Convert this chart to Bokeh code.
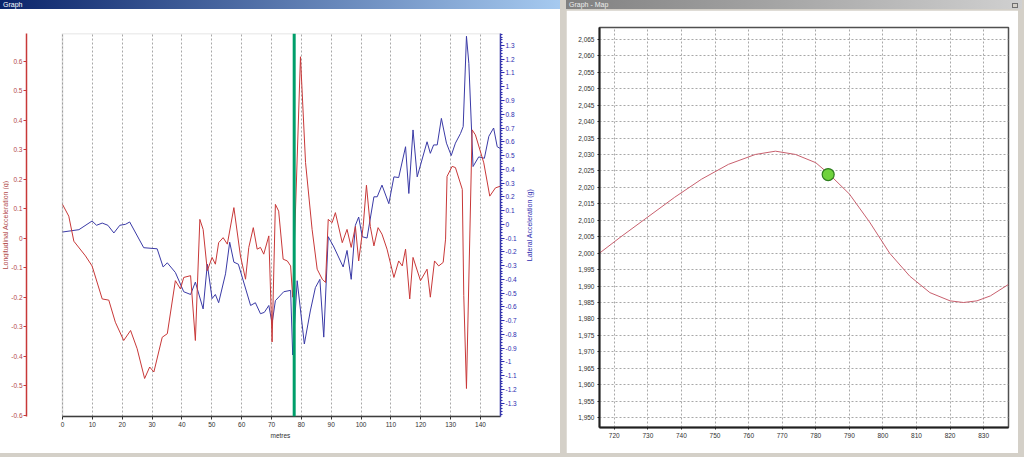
import numpy as np
from bokeh.plotting import figure
from bokeh.layouts import row, column
from bokeh.models import (Range1d, LinearAxis, FixedTicker, NumeralTickFormatter,
                          BoxAnnotation, Span, Spacer, Div, Title)
from bokeh.embed import file_html
from bokeh.resources import INLINE

FONT = "Liberation Sans"

# ---------------- data: left graph (distance in metres) ----------------
long_m = [0, 2.1, 3.8, 7.7, 9.9, 13.3, 15.5, 17.7, 20.5, 22.8, 25.0, 27.5, 29.2, 30.6,
          33.4, 35.1, 37.8, 39.5, 40.6, 42.9, 44.5, 46.0, 47.1, 48.5, 50.1, 51.2, 52.3,
          53.8, 55.2, 57.4, 59.6, 61.3, 62.4, 63.9, 65.2, 66.3, 67.4, 69.1, 70.2, 71.3,
          72.4, 73.9, 75.3, 76.4, 77.1, 79.7, 81.4, 83.6, 85.3, 87.0, 88.1, 89.0, 90.3,
          91.4, 93.7, 95.3, 96.7, 98.1, 99.2, 100.7, 101.8, 103.1, 104.3, 105.7, 107.0,
          108.7, 111.0, 112.6, 113.8, 114.9, 116.3, 117.4, 119.9, 122.1, 123.2, 124.6,
          126.0, 127.5, 128.3, 128.8, 130.5, 131.6, 133.9, 134.4, 135.3, 137.2, 138.3,
          141.1, 143.1, 145.0, 146.7]
long_g = [0.115, 0.075, -0.01, -0.06, -0.094, -0.206, -0.21, -0.285, -0.347, -0.313,
          -0.375, -0.476, -0.437, -0.454, -0.336, -0.324, -0.144, -0.172, -0.133, -0.127,
          -0.347, 0.064, 0.03, -0.11, -0.065, -0.088, -0.015, 0.002, -0.02, 0.104, -0.06,
          -0.139, -0.031, 0.036, -0.037, -0.031, -0.054, 0.008, -0.352, 0.115, 0.092,
          -0.071, -0.077, -0.094, -0.2, 0.616, 0.257, 0.03, -0.105, -0.139, -0.15, 0.064,
          0.053, 0.087, -0.015, 0.03, -0.031, 0.04, -0.077, 0.04, 0.18, 0.04, -0.026,
          0.036, 0.014, -0.037, -0.133, -0.077, -0.094, -0.037, -0.206, -0.065, -0.144,
          -0.105, -0.2, -0.077, -0.094, -0.082, -0.003, 0.21, 0.244, 0.24, 0.166, -0.195,
          -0.51, 0.368, 0.351, 0.256, 0.143, 0.171, 0.177]

lat_m = [0, 5.5, 9.9, 11.4, 13.3, 15.2, 17.2, 19.2, 21.1, 22.5, 27.2, 31.7, 33.7, 35.1,
         37.8, 40.6, 42.9, 44.5, 47.1, 48.5, 50.1, 51.2, 52.3, 54.6, 56.0, 57.4, 58.9,
         63.0, 64.6, 66.3, 67.6, 69.1, 70.2, 71.3, 74.1, 76.4, 77.1, 78.6, 81.0, 83.0,
         84.7, 86.2, 87.5, 89.0, 90.9, 94.0, 95.3, 96.7, 98.1, 99.2, 100.4, 102.0, 104.3,
         105.4, 107.0, 109.3, 111.0, 112.6, 114.9, 116.0, 117.4, 118.8, 122.1, 123.2,
         124.3, 125.5, 126.9, 128.6, 130.2, 131.6, 133.3, 134.2, 135.3, 136.1, 137.5,
         139.4, 141.3, 142.8, 144.4, 145.6, 146.7]
lat_g = [-0.056, -0.039, 0.024, -0.007, 0.009, -0.007, -0.063, -0.007, 0.0, 0.017, -0.17,
         -0.178, -0.31, -0.28, -0.35, -0.49, -0.51, -0.42, -0.615, -0.29, -0.54, -0.51,
         -0.57, -0.36, -0.13, -0.275, -0.29, -0.59, -0.57, -0.65, -0.64, -0.59, -0.72,
         -0.555, -0.49, -0.48, -0.95, -0.41, -0.87, -0.63, -0.46, -0.40, -0.82, -0.09,
         -0.165, -0.31, -0.19, -0.40, -0.007, 0.053, -0.09, -0.10, 0.2, 0.2, 0.285, 0.15,
         0.345, 0.34, 0.564, 0.224, 0.686, 0.345, 0.60, 0.516, 0.577, 0.577, 0.77, 0.59,
         0.50, 0.59, 0.66, 0.71, 1.367, 1.17, 0.42, 0.49, 0.48, 0.64, 0.70, 0.564, 0.55]

cursor_m = 77.6

dist_ticks = [0, 10, 20, 30, 40, 50, 60, 70, 80, 90, 100, 110, 120, 130, 140]
long_ticks = [-0.6, -0.5, -0.4, -0.3, -0.2, -0.1, 0, 0.1, 0.2, 0.3, 0.4, 0.5, 0.6]
lat_ticks = [-1.3, -1.2, -1.1, -1.0, -0.9, -0.8, -0.7, -0.6, -0.5, -0.4, -0.3, -0.2, -0.1,
             0, 0.1, 0.2, 0.3, 0.4, 0.5, 0.6, 0.7, 0.8, 0.9, 1.0, 1.1, 1.2, 1.3]
lat_minor = [round(v, 2) for v in np.arange(-1.38, 1.39, 0.02)]

# ---------------- data: right map ----------------
map_x = [715.6, 722, 730, 738, 746, 754, 762, 768, 774, 780, 784, 790, 796, 802, 808,
         814, 820, 824, 828, 832, 837.4]
map_y = [2000, 2005, 2011, 2017, 2022.5, 2027, 2030, 2031, 2030, 2027.5, 2024, 2018,
         2009.5, 2000, 1993, 1988, 1985.5, 1985, 1985.5, 1987, 1990.5]
car_x = [783.7]
car_y = [2023.9]
map_x_ticks = [720, 730, 740, 750, 760, 770, 780, 790, 800, 810, 820, 830]
map_y_ticks = [1950, 1955, 1960, 1965, 1970, 1975, 1980, 1985, 1990, 1995, 2000, 2005,
               2010, 2015, 2020, 2025, 2030, 2035, 2040, 2045, 2050, 2055, 2060, 2065]

CHROME = "#d4d0c8"
RED = "#c83838"
RED_TXT = "#b04848"
BLUE = "#2c2cb0"
BLUE_LINE = "#3a3aa6"
TICK_FS = "6.5px"


def title_bar(width, html, c0, c1, color):
    return Div(text=html, width=width, height=9, margin=0,
               styles={"background": f"linear-gradient(to right, {c0}, {c1})",
                       "color": color, "font-size": "7px", "line-height": "9px",
                       "font-family": FONT, "overflow": "hidden",
                       "white-space": "nowrap"})


def label_strip(width, text, color, mb_left, mb_top, mb_bottom):
    """A narrow white strip holding a vertical (bottom-to-top) axis caption."""
    s = figure(width=width, height=444, toolbar_location=None, output_backend="svg",
               title=None, x_axis_location=None, y_axis_location=None,
               min_border_left=mb_left, min_border_right=0, min_border_top=mb_top,
               min_border_bottom=mb_bottom, outline_line_color=None,
               background_fill_color="white", border_fill_color="white",
               x_range=Range1d(0, 1), y_range=Range1d(0, 1))
    s.grid.visible = False
    s.add_layout(Title(text=text, align="center", standoff=0, text_font_size="7px",
                       text_font=FONT, text_font_style="normal", text_color=color),
                 "left")
    return s


# ---------------- left graph ----------------
X_LO, X_HI = -12.06, 146.7
LON_LO, LON_HI = -0.605, 0.695
LAT_LO, LAT_HI = -1.397, 1.387

p = figure(width=514, height=444, x_range=Range1d(X_LO, X_HI),
           y_range=Range1d(LON_LO, LON_HI), output_backend="svg", toolbar_location=None,
           min_border_left=18, min_border_right=22, min_border_top=24, min_border_bottom=37,
           outline_line_color=None, background_fill_color="white",
           border_fill_color="white")
p.extra_y_ranges = {"lat": Range1d(LAT_LO, LAT_HI)}

xt = FixedTicker(ticks=dist_ticks)
p.xaxis.ticker = xt
p.xaxis.bounds = (0, X_HI)
p.xaxis.axis_line_color = "#303030"
p.xaxis.axis_line_width = 1.5
p.xaxis.major_tick_line_color = "#303030"
p.xaxis.major_tick_out = 3
p.xaxis.major_tick_in = 0
p.xaxis.minor_tick_line_color = None
p.xaxis.major_label_text_font_size = TICK_FS
p.xaxis.major_label_text_font = FONT
p.xaxis.major_label_text_color = "#303030"
p.xaxis.major_label_standoff = 2

p.xgrid.ticker = xt
p.xgrid.grid_line_color = "#a8a8a8"
p.xgrid.grid_line_dash = "2 2"
p.ygrid.visible = False

ya = p.yaxis[0]
ya.ticker = FixedTicker(ticks=long_ticks)
ya.formatter = NumeralTickFormatter(format="0.[0]")
ya.axis_line_color = RED
ya.axis_line_width = 1.5
ya.major_tick_line_color = RED
ya.major_tick_out = 3
ya.major_tick_in = 0
ya.minor_tick_line_color = None
ya.major_label_text_color = RED_TXT
ya.major_label_text_font_size = TICK_FS
ya.major_label_text_font = FONT
ya.major_label_standoff = 1

ra = LinearAxis(y_range_name="lat", ticker=FixedTicker(ticks=lat_ticks, minor_ticks=lat_minor),
                formatter=NumeralTickFormatter(format="0.[0]"))
ra.axis_line_color = BLUE
ra.axis_line_width = 1.5
ra.major_tick_line_color = BLUE
ra.minor_tick_line_color = BLUE
ra.major_tick_out = 4
ra.major_tick_in = 0
ra.minor_tick_out = 2
ra.minor_tick_in = 0
ra.major_label_text_color = BLUE
ra.major_label_text_font_size = TICK_FS
ra.major_label_text_font = FONT
ra.major_label_standoff = 1
p.add_layout(ra, "right")

p.add_layout(Title(text="metres", align="left", offset=244, standoff=0,
                   text_font_size="6.5px", text_font=FONT, text_font_style="normal",
                   text_color="#303030"), "below")

p.add_layout(BoxAnnotation(left=0, fill_alpha=0, line_color="#8c8c8c", line_width=1.5))

p.line(lat_m, lat_g, y_range_name="lat", line_color=BLUE_LINE, line_width=1)
p.line(long_m, long_g, line_color=RED, line_width=1)

p.add_layout(Span(location=cursor_m, dimension="height", line_color="#009e6a",
                  line_width=3))

left_caption = label_strip(8, "Longitudinal Acceleration (g)", RED_TXT, 0, 22, 0)
right_caption = label_strip(38, "Lateral Acceleration (g)", BLUE, 10, 0, 32)

# ---------------- right map ----------------
q = figure(width=452, height=443, x_range=Range1d(715.6, 837.4),
           y_range=Range1d(1947.0, 2068.6), output_backend="svg", toolbar_location=None,
           min_border_left=33, min_border_right=10, min_border_top=17, min_border_bottom=26,
           outline_line_color="#505050", outline_line_width=1.5,
           background_fill_color="white", border_fill_color="white")
q.xaxis.ticker = FixedTicker(ticks=map_x_ticks)
q.yaxis.ticker = FixedTicker(ticks=map_y_ticks)
q.yaxis.formatter = NumeralTickFormatter(format="0,0")
for ax in (q.xaxis[0], q.yaxis[0]):
    ax.axis_line_color = "#202020"
    ax.axis_line_width = 2
    ax.major_tick_line_color = "#202020"
    ax.major_tick_out = 2
    ax.major_tick_in = 0
    ax.minor_tick_line_color = None
    ax.major_label_text_font_size = TICK_FS
    ax.major_label_text_font = FONT
    ax.major_label_text_color = "#303030"
    ax.major_label_standoff = 3
q.grid.grid_line_color = "#a8a8a8"
q.grid.grid_line_dash = "2 2"
q.line(map_x, map_y, line_color="#c8606e", line_width=1)
q.scatter(car_x, car_y, size=12, fill_color="#6fd23c", line_color="#2e7d1e", line_width=1.2)

# ---------------- window chrome ----------------
tb_left = title_bar(560, '<span style="margin-left:3px">Graph</span>',
                    "#0a246a", "#a6caf0", "white")
tb_right = title_bar(
    456,
    '<span style="display:inline-block;width:443px;margin-left:3px">Graph - Map</span>'
    '<span style="display:inline-block;width:6px;height:5px;vertical-align:middle;'
    'background:#d4d0c8;border:1px solid #707070"></span>',
    "#808080", "#d0d0d0", "#eeeeee")

graph_row = row(left_caption, p, right_caption, spacing=0,
                styles={"background-color": "white"})
left_col = column(tb_left, graph_row, Spacer(width=560, height=4), spacing=0)
right_col = column(row(Spacer(width=6, height=9), tb_right, Spacer(width=2, height=9),
                       spacing=0),
                   Spacer(width=464, height=1),
                   row(Spacer(width=6, height=443), q, Spacer(width=6, height=443),
                       spacing=0),
                   Spacer(width=464, height=4), spacing=0)
layout = row(left_col, right_col, spacing=0, styles={"background-color": CHROME})

open("out.html", "w").write(file_html(layout, INLINE))
